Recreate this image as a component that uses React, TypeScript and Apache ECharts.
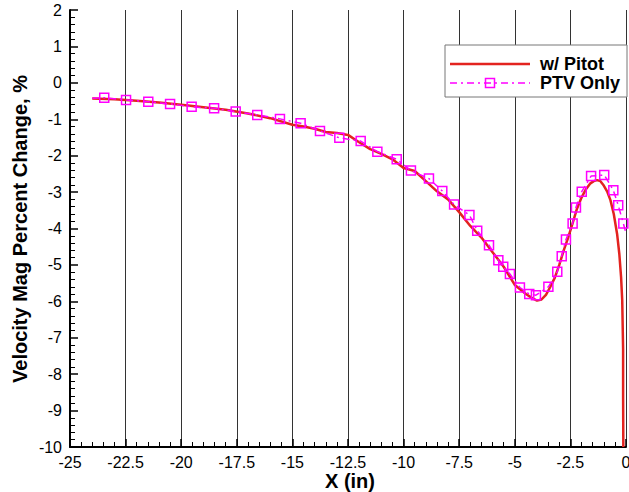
import React, { useEffect, useRef } from "react";
import * as echarts from "echarts";

const FONT = "'Liberation Sans', Arial, Helvetica, sans-serif";

const seriesNames = ["w/ Pitot", "PTV Only"];
const seriesColors = ["#e3231f", "#ff00ff"];

const pitotX = [
  -24, -23, -22, -21, -20, -19, -18, -17, -16, -15, -14.5, -14, -13.5, -13, -12.5, -12,
  -11.5, -11, -10.5, -10, -9.5, -9, -8.5, -8, -7.5, -7, -6.5, -6, -5.5, -5, -4.5, -4.2, -4,
  -3.8, -3.6, -3.4, -3.2, -3.0, -2.8, -2.6, -2.4, -2.2, -2.0, -1.8, -1.6, -1.45, -1.3,
  -1.15, -1.0, -0.85, -0.7, -0.55, -0.4, -0.3, -0.22, -0.17, -0.13, -0.13, -0.12,
];
const pitotY = [
  -0.43, -0.45, -0.49, -0.54, -0.6, -0.67, -0.74, -0.84, -0.97, -1.15, -1.2, -1.26, -1.35,
  -1.38, -1.43, -1.63, -1.82, -1.95, -2.1, -2.34, -2.42, -2.7, -2.98, -3.2, -3.55, -3.93,
  -4.25, -4.65, -5.05, -5.55, -5.8, -5.92, -5.98, -5.95, -5.82, -5.6, -5.35, -5.0, -4.6,
  -4.25, -3.85, -3.45, -3.15, -2.92, -2.76, -2.7, -2.67, -2.7, -2.82, -2.98, -3.22, -3.6,
  -4.15, -4.7, -5.35, -5.97, -7.3, -8.6, -10,
];

const ptvX = [
  -24, -23.46, -22.48, -21.48, -20.5, -19.53, -18.52, -17.55, -16.58, -15.56, -14.63,
  -13.76, -12.89, -11.93, -11.18, -10.31, -9.67, -8.86, -8.26, -7.73, -7.04, -6.69, -6.16,
  -5.74, -5.52, -5.22, -4.77, -4.35, -4.05, -3.49, -3.09, -2.89, -2.7, -2.4, -2.25, -1.99,
  -1.57, -0.98, -0.57, -0.35, -0.12, 0,
];
const ptvY = [
  -0.42, -0.41, -0.47, -0.52, -0.58, -0.66, -0.7, -0.79, -0.88, -0.99, -1.11, -1.32, -1.51,
  -1.6, -1.89, -2.1, -2.41, -2.63, -2.97, -3.34, -3.63, -4.06, -4.46, -4.87, -5.05, -5.25,
  -5.62, -5.8, -5.83, -5.6, -5.19, -4.76, -4.3, -3.86, -3.42, -2.99, -2.56, -2.53, -2.95,
  -3.36, -3.86, -4.13,
];

const xAxisTitle = "X (in)";
const yAxisTitle = "Velocity Mag Percent Change, %";

export default function App() {
  const ref = useRef<HTMLDivElement>(null);
  useEffect(() => {
    document.body.style.margin = "0";
    document.documentElement.style.overflow = "hidden";
    if (!ref.current) return;
    const chart = echarts.init(ref.current, null, { renderer: "svg" });
    const lastPtv = ptvX.length - 1;

    const lx = 445;
    const ly = 45;
    const row1 = 64;
    const row2 = 83;
    const legend = {
      type: "group",
      z: 100,
      children: [
        {
          type: "rect",
          shape: { x: lx, y: ly, width: 182, height: 52 },
          style: { fill: "#ffffff", stroke: "#777777", lineWidth: 1 },
          z: 100,
        },
        {
          type: "line",
          shape: { x1: 450, y1: row1, x2: 530, y2: row1 },
          style: { stroke: seriesColors[0], lineWidth: 2.5 },
          z: 101,
        },
        {
          type: "text",
          x: 540,
          y: row1,
          style: {
            text: seriesNames[0],
            font: `bold 18px ${FONT}`,
            fill: "#000",
            textAlign: "left",
            textVerticalAlign: "middle",
          },
          z: 101,
        },
        {
          type: "line",
          shape: { x1: 450, y1: row2, x2: 530, y2: row2 },
          style: { stroke: seriesColors[1], lineWidth: 1.5, lineDash: [7, 4, 2, 4] },
          z: 101,
        },
        {
          type: "rect",
          shape: { x: 485.5, y: row2 - 4.5, width: 9, height: 9 },
          style: { fill: "rgba(255,255,255,0)", stroke: seriesColors[1], lineWidth: 1.5 },
          z: 102,
        },
        {
          type: "text",
          x: 540,
          y: row2,
          style: {
            text: seriesNames[1],
            font: `bold 18px ${FONT}`,
            fill: "#000",
            textAlign: "left",
            textVerticalAlign: "middle",
          },
          z: 101,
        },
      ],
    };

    chart.setOption({
      animation: false,
      backgroundColor: "#ffffff",
      grid: {
        left: 70,
        right: 3,
        top: 10,
        bottom: 45,
        containLabel: false,
        outerBoundsMode: "none",
      },
      xAxis: {
        type: "value",
        min: -25,
        max: 0,
        interval: 2.5,
        axisLine: { show: true, onZero: false, lineStyle: { color: "#000", width: 2 } },
        axisTick: { show: true, inside: true, length: 8, lineStyle: { color: "#000", width: 1.5 } },
        minorTick: { show: true, splitNumber: 5, length: 5, lineStyle: { color: "#000", width: 1 } },
        splitLine: { show: true, lineStyle: { color: "#333", width: 1 } },
        axisLabel: {
          show: true,
          showMinLabel: true,
          showMaxLabel: true,
          hideOverlap: false,
          margin: 7,
          fontSize: 16,
          color: "#000",
          fontFamily: FONT,
        },
      },
      yAxis: {
        type: "value",
        min: -10,
        max: 2,
        interval: 1,
        axisLine: { show: true, onZero: false, lineStyle: { color: "#000", width: 2 } },
        axisTick: { show: true, inside: true, length: 8, lineStyle: { color: "#000", width: 1.5 } },
        minorTick: { show: true, splitNumber: 5, length: 5, lineStyle: { color: "#000", width: 1 } },
        splitLine: { show: false },
        axisLabel: {
          show: true,
          showMinLabel: true,
          showMaxLabel: true,
          margin: 8,
          fontSize: 16,
          color: "#000",
          fontFamily: FONT,
        },
      },
      series: [
        {
          name: seriesNames[0],
          type: "line",
          data: pitotX.map((x, i) => [x, pitotY[i]]),
          showSymbol: false,
          symbol: "none",
          lineStyle: { color: seriesColors[0], width: 2.5 },
          itemStyle: { color: seriesColors[0] },
          z: 3,
        },
        {
          name: seriesNames[1],
          type: "line",
          data: ptvX.map((x, i) => ({
            value: [x, ptvY[i]],
            symbol: i === 0 || i === lastPtv ? "none" : "rect",
          })),
          symbol: "rect",
          symbolSize: 9,
          showAllSymbol: true,
          lineStyle: { color: seriesColors[1], width: 1.5, type: [7, 4, 2, 4] },
          itemStyle: { color: "rgba(255,255,255,0)", borderColor: seriesColors[1], borderWidth: 1.5 },
          z: 4,
        },
      ],
      graphic: [
        legend,
        {
          type: "text",
          x: 20,
          y: 229,
          rotation: Math.PI / 2,
          style: {
            text: yAxisTitle,
            font: `bold 20px ${FONT}`,
            fill: "#000",
            textAlign: "center",
            textVerticalAlign: "middle",
          },
        },
        {
          type: "text",
          x: 350,
          y: 481,
          style: {
            text: xAxisTitle,
            font: `bold 20px ${FONT}`,
            fill: "#000",
            textAlign: "center",
            textVerticalAlign: "middle",
          },
        },
      ],
    });
    return () => chart.dispose();
  }, []);
  return (
    <div
      ref={ref}
      style={{ position: "fixed", left: 0, top: 0, width: 629, height: 492 }}
    />
  );
}
